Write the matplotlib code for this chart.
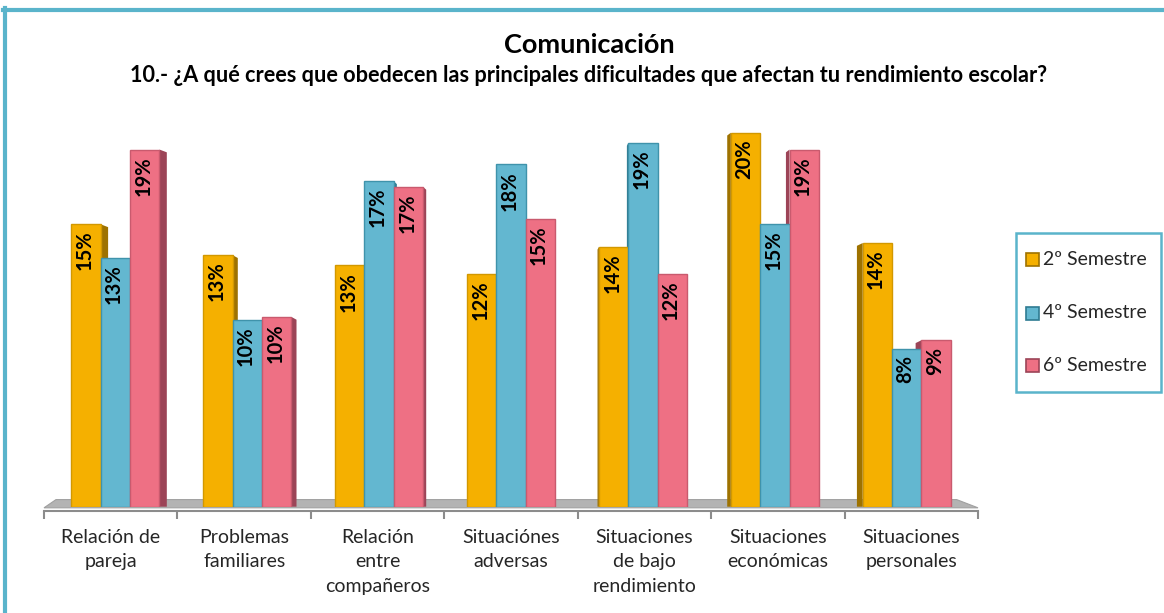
import matplotlib
matplotlib.use('Agg')
import matplotlib.pyplot as plt
import numpy as np
from matplotlib.patches import Polygon, Rectangle
from matplotlib.lines import Line2D

# ---------------- data ----------------
categories = ["Relación de\npareja", "Problemas\nfamiliares", "Relación\nentre\ncompañeros",
              "Situaciónes\nadversas", "Situaciones\nde bajo\nrendimiento",
              "Situaciones\neconómicas", "Situaciones\npersonales"]
series_names = ["2º Semestre", "4º Semestre", "6º Semestre"]
sem2 = [15.1, 13.45, 12.9, 12.45, 13.9, 20.0, 14.1]
sem4 = [13.3, 10.0, 17.4, 18.3, 19.45, 15.1, 8.45]
sem6 = [19.1, 10.15, 17.1, 15.4, 12.45, 19.1, 8.9]
title = "Comunicación"
subtitle = "10.- ¿A qué crees que obedecen las principales dificultades que afectan tu rendimiento escolar?"

# ---------------- style ----------------
plt.rcParams['font.family'] = ['Lato', 'DejaVu Sans']
face_cols = ['#F5B000', '#63B7D0', '#EE7084']
edge_cols = ['#D29800', '#3F93AB', '#C95A6E']
side_cols = ['#9E7200', '#2F7C92', '#9C4457']
teal = '#5AB4CB'

W, H = 1164, 613
fig = plt.figure(figsize=(W / 100, H / 100), dpi=100)

left_px, right_px = 44, 978
base_px = 506.7
ppu = 18.7
ymax = 21.0
ax = fig.add_axes([left_px / W, (H - base_px) / H, (right_px - left_px) / W, ymax * ppu / H])
ax.set_xlim(-0.5, 6.5)
ax.set_ylim(0, ymax)
for s in ['top', 'right', 'left']:
    ax.spines[s].set_visible(False)
ax.spines['bottom'].set_position(('outward', 3))
ax.spines['bottom'].set_color('#8C8C8C')
ax.spines['bottom'].set_linewidth(1.5)
ax.set_yticks([])
x = np.arange(len(categories))
ax.set_xticks(x)
ax.set_xticklabels(categories, fontsize=14, color='#262626', linespacing=1.53)
ax.tick_params(axis='x', which='major', length=0, pad=13)
ax.set_xticks(np.arange(-0.5, len(categories)), minor=True)
ax.tick_params(axis='x', which='minor', length=6, width=1.5, color='#8C8C8C')

# floor (3D base)
floor = Polygon([(-0.5, -0.06), (6.5, -0.06), (6.34, 0.38), (-0.41, 0.38)],
                closed=True, facecolor='#B3B3B3', edgecolor='#A0A0A0', lw=0.8,
                zorder=1, clip_on=False)
ax.add_patch(floor)

series = [sem2, sem4, sem6]
bw = 0.22
shift = 0.035 - 0.0115 * x            # perspective shift of each group
depth = (7.4 - 2.2 * x) / 133.4       # visible side-face depth per group

for k, vals in enumerate(series):
    xs = x + shift + (k - 1) * bw
    ax.bar(xs, vals, width=bw, color=face_cols[k], edgecolor=edge_cols[k],
           linewidth=1.0, zorder=3)
    for i, (xc, v) in enumerate(zip(xs, vals)):
        d = depth[i]
        if abs(d) >= 0.004:
            xe = xc + bw / 2 if d > 0 else xc - bw / 2
            poly = Polygon([(xe, 0), (xe, v), (xe + d, v - 0.15), (xe + d, 0)],
                           closed=True, facecolor=side_cols[k], edgecolor='none', zorder=2.5)
            ax.add_patch(poly)
        ax.text(xc - 0.01, v - 0.35, f"{v:.0f}%", rotation=90, ha='center', va='top',
                fontsize=14.5, fontweight='bold', color='black', zorder=5)

# titles
fig.text(589 / W, 1 - 45 / H, title, ha='center', va='center', fontsize=19.5, fontweight='bold')
fig.text(589 / W, 1 - 76 / H, subtitle, ha='center', va='center', fontsize=15.6, fontweight='bold')

# outer frame
fig.add_artist(Line2D([4.5 / W, 4.5 / W], [0, 1 - 8 / H], color=teal, lw=3, transform=fig.transFigure))
fig.add_artist(Line2D([3 / W, 1], [1 - 9.5 / H, 1 - 9.5 / H], color=teal, lw=3, transform=fig.transFigure))

# legend box
lx0, ly0, lx1, ly1 = 1016, 233, 1161, 392
fig.add_artist(Rectangle((lx0 / W, 1 - ly1 / H), (lx1 - lx0) / W, (ly1 - ly0) / H,
                         transform=fig.transFigure, facecolor='white', edgecolor=teal, lw=1.8))
ycs = [259.5, 313, 365.5]
for k, name in enumerate(series_names):
    yc = ycs[k]
    fig.add_artist(Rectangle((1026 / W, 1 - (yc + 6.5) / H), 13 / W, 13 / H,
                             transform=fig.transFigure, facecolor=face_cols[k],
                             edgecolor=side_cols[k], lw=1.2))
    fig.text(1043 / W, 1 - yc / H, name, ha='left', va='center', fontsize=14, color='#262626')

fig.savefig('out.png', dpi=100)
